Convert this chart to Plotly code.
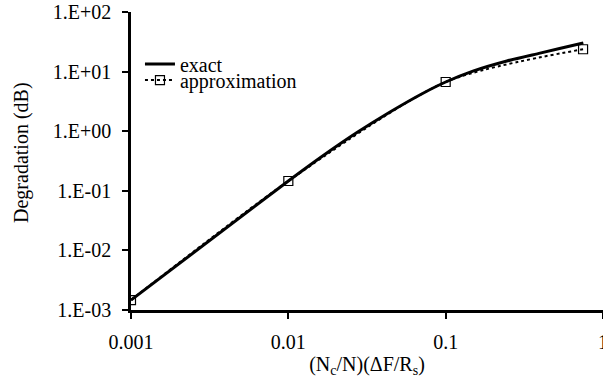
import plotly.graph_objects as go

# Data
exact_x = [0.001, 0.01, 0.0166, 0.0273, 0.0443, 0.0718, 0.1, 0.149, 0.245, 0.398, 0.714, 0.75]
exact_y = [0.00147, 0.146, 0.387, 0.948, 2.10, 4.34, 6.69, 10.2, 15.1, 20.4, 29.3, 30.2]

approx_x = [0.001, 0.01, 0.1, 0.747]
approx_y = [0.00147, 0.146, 6.69, 23.7]

x_tickvals = [0.001, 0.01, 0.1, 1]
x_ticktext = ["0.001", "0.01", "0.1", "1"]
y_tickvals = [0.001, 0.01, 0.1, 1, 10, 100]
y_ticktext = ["1.E-03", "1.E-02", "1.E-01", "1.E+00", "1.E+01", "1.E+02"]

FONT = "Liberation Serif"
FS = 20

fig = go.Figure()
fig.add_trace(go.Scatter(
    x=approx_x, y=approx_y, mode="lines+markers", name="approximation", legend="legend2",
    line=dict(color="black", width=2, dash="dot", shape="spline", smoothing=0.75),
    marker=dict(symbol="square-open", size=9, color="black", line=dict(width=1.2, color="black")),
))
fig.add_trace(go.Scatter(
    x=exact_x, y=exact_y, mode="lines", name="exact", legend="legend",
    line=dict(color="black", width=3, shape="spline", smoothing=0.5),
))

xr = [-3, 0]
yr = [-3, 2]

leg_common = dict(xanchor="left", yanchor="top", bgcolor="rgba(0,0,0,0)", borderwidth=0,
                  font=dict(family=FONT, size=FS))

fig.update_layout(
    width=603, height=385,
    margin=dict(l=131, r=0, t=12, b=75),
    paper_bgcolor="white", plot_bgcolor="white",
    font=dict(family=FONT, size=FS, color="black"),
    showlegend=True,
    legend=dict(x=0.019, y=0.891, **leg_common),
    legend2=dict(x=0.019, y=0.837, **leg_common),
    xaxis=dict(type="log", range=xr, tickvals=x_tickvals, ticktext=x_ticktext,
               showgrid=False, zeroline=False, showline=True, linecolor="black", linewidth=2.5,
               ticks="outside", ticklen=6, tickwidth=2, tickcolor="black",
               ticklabeloverflow="allow", automargin=False, ticklabelstandoff=6,
               tickfont=dict(family=FONT, size=FS),
               title=dict(text="(N<sub>c</sub>/N)(ΔF/R<sub>s</sub>)", standoff=6,
                          font=dict(family=FONT, size=FS))),
    yaxis=dict(type="log", range=yr, tickvals=y_tickvals, ticktext=y_ticktext,
               showgrid=False, zeroline=False, showline=True, linecolor="black", linewidth=2.5,
               ticks="outside", ticklen=6, tickwidth=2, tickcolor="black",
               automargin=False, ticklabelstandoff=7, tickfont=dict(family=FONT, size=FS)),
    xaxis2=dict(type="log", range=xr, tickvals=x_tickvals, overlaying="x", anchor="y", side="bottom",
                showgrid=False, zeroline=False, showline=False, showticklabels=False,
                ticks="inside", ticklen=6, tickwidth=2, tickcolor="black", automargin=False),
    yaxis2=dict(type="log", range=yr, tickvals=y_tickvals, overlaying="y", anchor="x", side="left",
                showgrid=False, zeroline=False, showline=False, showticklabels=False,
                ticks="inside", ticklen=6, tickwidth=2, tickcolor="black", automargin=False),
    annotations=[dict(text="Degradation (dB)", textangle=-90, xref="paper", yref="paper",
                      x=-0.2309, y=0.527, xanchor="center", yanchor="middle", showarrow=False,
                      font=dict(family=FONT, size=FS))],
)

fig.write_html("out.html", config={"displayModeBar": False},
               post_script="document.body.style.margin='0px';")
